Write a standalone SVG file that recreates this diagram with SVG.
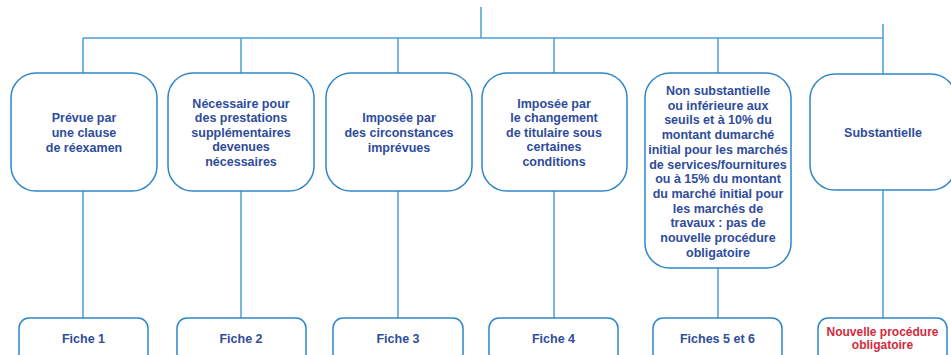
<svg xmlns="http://www.w3.org/2000/svg" width="951" height="355" viewBox="0 0 951 355">
<style>
.box{fill:#fff;stroke:#2f86c8;stroke-width:1.5}
.ln{stroke:#4a9fd8;stroke-width:1.5;fill:none}
.t{font-family:"Liberation Sans",Arial,sans-serif;font-weight:bold;font-size:12.5px;fill:#2f4c9c;text-anchor:middle}
.r{fill:#d42a3a;font-size:12px}
</style>
<rect width="951" height="355" fill="#fff"/>
<g id="connectors">
<path class="ln" d="M481 7V38M83 38H883M883 24V74M83 38V73M241 38V73M398 38V73M554 38V73M718 38V73"/>
<path class="ln" d="M83 191V318M241 191V318M398 191V318M554 191V318M718 268V318M883 190V318"/>
</g>
<g id="n1"><rect class="box" x="11" y="73" width="146" height="118" rx="25"/>
<text class="t"><tspan x="84" y="121.5">Prévue par</tspan><tspan x="84" y="136.5">une clause</tspan><tspan x="84" y="151.5">de réexamen</tspan></text></g>
<g id="n2"><rect class="box" x="168" y="73" width="146" height="118" rx="25"/>
<text class="t"><tspan x="241" y="107.5">Nécessaire pour</tspan><tspan x="241" y="122">des prestations</tspan><tspan x="241" y="136.5">supplémentaires</tspan><tspan x="241" y="151">devenues</tspan><tspan x="241" y="165.5">nécessaires</tspan></text></g>
<g id="n3"><rect class="box" x="326" y="73" width="146" height="118" rx="25"/>
<text class="t"><tspan x="399" y="121.5">Imposée par</tspan><tspan x="399" y="136.5">des circonstances</tspan><tspan x="399" y="151.5">imprévues</tspan></text></g>
<g id="n4"><rect class="box" x="482" y="73" width="145" height="118" rx="25"/>
<text class="t"><tspan x="554" y="107.5">Imposée par</tspan><tspan x="554" y="122">le changement</tspan><tspan x="554" y="136.5">de titulaire sous</tspan><tspan x="554" y="151">certaines</tspan><tspan x="554" y="165.5">conditions</tspan></text></g>
<g id="n5"><rect class="box" x="645" y="73" width="146" height="195" rx="25"/>
<text class="t"><tspan x="718" y="95">Non substantielle</tspan><tspan x="718" y="109.7">ou inférieure aux</tspan><tspan x="718" y="124.4">seuils et à 10% du</tspan><tspan x="718" y="139.1">montant dumarché</tspan><tspan x="718" y="153.8">initial pour les marchés</tspan><tspan x="718" y="168.5">de services/fournitures</tspan><tspan x="718" y="183.2">ou à 15% du montant</tspan><tspan x="718" y="197.9">du marché initial pour</tspan><tspan x="718" y="212.6">les marchés de</tspan><tspan x="718" y="227.3">travaux : pas de</tspan><tspan x="718" y="242">nouvelle procédure</tspan><tspan x="718" y="256.7">obligatoire</tspan></text></g>
<g id="n6"><rect class="box" x="810" y="74" width="146" height="116" rx="25"/>
<text class="t"><tspan x="883" y="137">Substantielle</tspan></text></g>
<g id="f1"><rect class="box" x="19" y="318" width="129" height="46" rx="10"/><text class="t" x="83.5" y="342.5">Fiche 1</text></g>
<g id="f2"><rect class="box" x="177" y="318" width="129" height="46" rx="10"/><text class="t" x="241" y="342.5">Fiche 2</text></g>
<g id="f3"><rect class="box" x="333" y="318" width="130" height="46" rx="10"/><text class="t" x="398" y="342.5">Fiche 3</text></g>
<g id="f4"><rect class="box" x="489" y="318" width="129" height="46" rx="10"/><text class="t" x="553.5" y="342.5">Fiche 4</text></g>
<g id="f5"><rect class="box" x="653" y="318" width="129" height="46" rx="10"/><text class="t" x="717.5" y="342.5">Fiches 5 et 6</text></g>
<g id="f6"><rect class="box" x="818" y="318" width="129" height="46" rx="10"/><text class="t r"><tspan x="882.5" y="336">Nouvelle procédure</tspan><tspan x="882.5" y="348.5">obligatoire</tspan></text></g>
</svg>
